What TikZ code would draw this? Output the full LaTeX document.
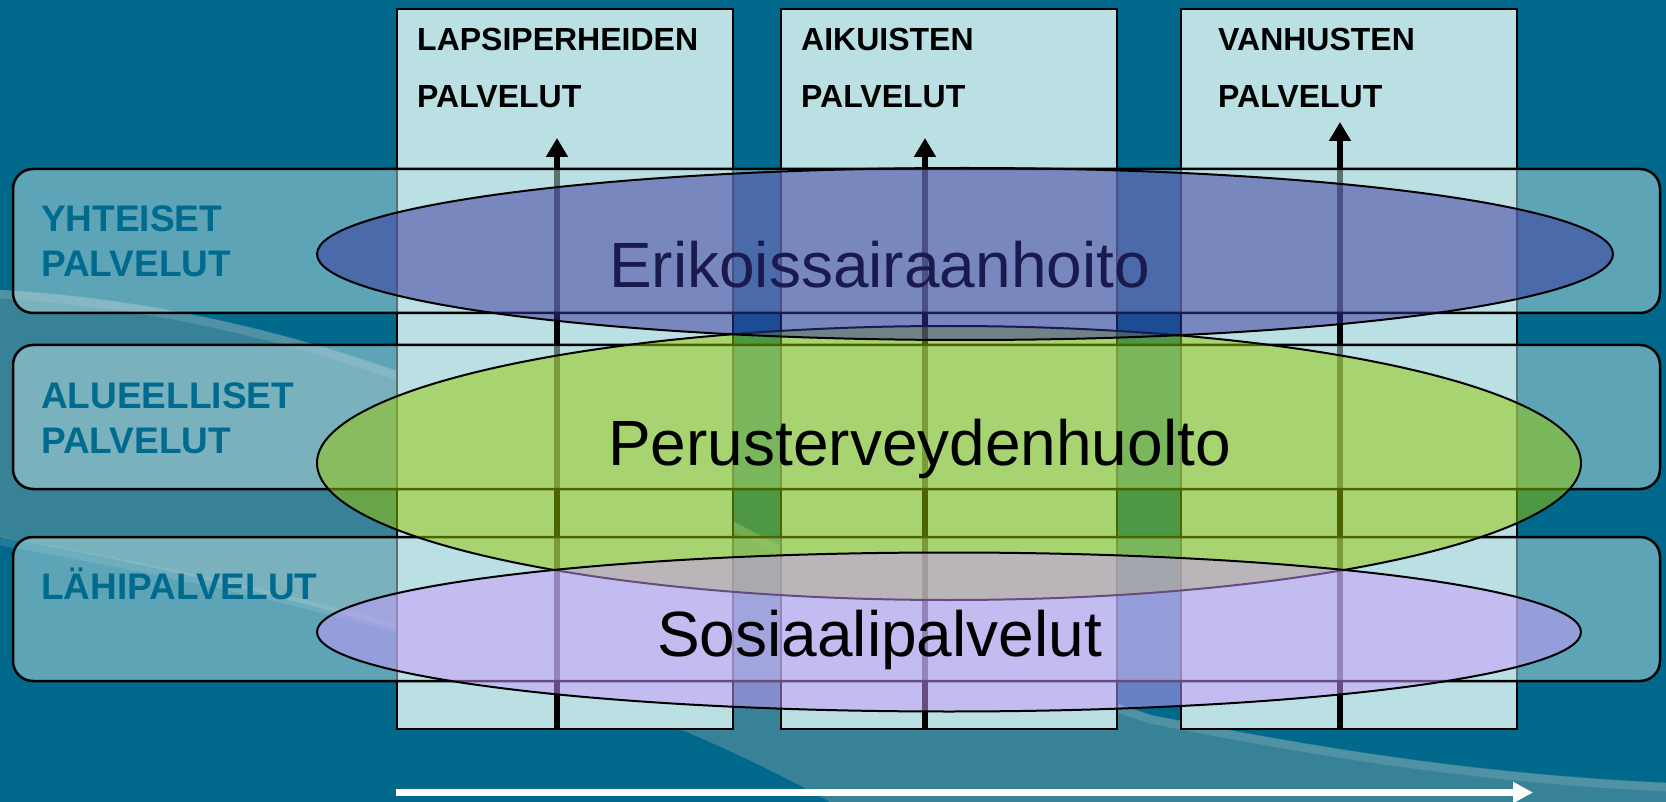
\documentclass[tikz,border=0pt]{standalone}
\usepackage{fontspec}
\setmainfont{Liberation Sans}
\usetikzlibrary{arrows.meta,shapes.geometric}
\definecolor{bgdark}{RGB}{0,105,140}
\definecolor{bgmid}{RGB}{56,130,152}
\definecolor{cyanbox}{RGB}{186,224,227}
\definecolor{labelteal}{RGB}{0,107,143}
\definecolor{ellblue}{RGB}{56,50,156}
\definecolor{ellgreen}{RGB}{152,200,0}
\definecolor{ellpurple}{RGB}{204,153,255}
\definecolor{navytext}{RGB}{27,26,78}
\begin{document}
\begin{tikzpicture}[x=1pt,y=-1pt,
  colbox/.style={draw=black,line width=2pt,fill=cyanbox,inner sep=0pt,outer sep=0pt,
    minimum width=336pt,minimum height=720pt,anchor=north west},
  rowbox/.style={draw=black,line width=2.5pt,fill=cyanbox,fill opacity=0.5,
    rounded corners=20pt,inner sep=0pt,outer sep=0pt,
    minimum width=1647pt,minimum height=144pt,anchor=north west},
  ell/.style={ellipse,draw=black,line width=2pt,fill opacity=0.5,inner sep=0pt},
  uparrow/.style={draw=black,line width=6.5pt,-{Triangle[length=19pt,width=21pt]}},
  whitearrow/.style={draw=white,line width=7pt,-{Triangle[length=20pt,width=20pt]}},
  header/.style={font=\bfseries\fontsize{32}{32}\selectfont,text=black,inner sep=0pt,anchor=base west},
  rowlabel/.style={font=\bfseries\fontsize{37}{37}\selectfont,text=labelteal,inner sep=0pt,anchor=base west},
  bigtext/.style={font=\fontsize{64}{64}\selectfont,inner sep=0pt,anchor=base west},
  streak/.style={draw=white,draw opacity=0.12,line width=9pt}
]
\useasboundingbox (0,0) rectangle (1666,802);
% background
\fill[bgdark] (0,0) rectangle (1666,802);
\fill[bgmid] (0,290) .. controls (500,320) and (800,600) .. (1150,715)
  .. controls (1350,755) and (1500,775) .. (1666,783) -- (1666,802) -- (830,802)
  .. controls (650,700) and (350,600) .. (0,537) -- cycle;
\draw[streak] (0,294) .. controls (500,324) and (800,604) .. (1150,719)
  .. controls (1350,759) and (1500,779) .. (1666,787);
\draw[streak] (0,541) .. controls (250,585) and (420,630) .. (560,680);
% columns
\node[colbox] (c1) at (397,9) {};
\node[colbox] (c2) at (781,9) {};
\node[colbox] (c3) at (1181,9) {};
% arrows in columns
\coordinate (a1s) at (557,729); \coordinate (a1e) at (557,138);
\coordinate (a2s) at (925,729); \coordinate (a2e) at (925,138);
\coordinate (a3s) at (1340,729); \coordinate (a3e) at (1340,122);
\draw[uparrow] (a1s) -- (a1e);
\draw[uparrow] (a2s) -- (a2e);
\draw[uparrow] (a3s) -- (a3e);
% rows
\node[rowbox] (r1) at (13,169) {};
\node[rowbox] (r2) at (13,345) {};
\node[rowbox] (r3) at (13,537) {};
% ellipses
\node[ell,fill=ellgreen,minimum width=1264pt,minimum height=274pt] (eg) at (949,463) {};
\node[ell,fill=ellblue,minimum width=1296pt,minimum height=172pt] (eb) at (965,254) {};
\node[ell,fill=ellpurple,minimum width=1264pt,minimum height=159pt] (ep) at (949,632) {};
% headers
\node[header] (h1a) at (417,51) {LAPSIPERHEIDEN};
\node[header] (h1b) at (417,108) {PALVELUT};
\node[header] (h2a) at (801,51) {AIKUISTEN};
\node[header] (h2b) at (801,108) {PALVELUT};
\node[header] (h3a) at (1218,51) {VANHUSTEN};
\node[header] (h3b) at (1218,108) {PALVELUT};
% row labels
\node[rowlabel] (l1a) at (41,232) {YHTEISET};
\node[rowlabel] (l1b) at (41,277) {PALVELUT};
\node[rowlabel] (l2a) at (41,408) {ALUEELLISET};
\node[rowlabel] (l2b) at (41,453) {PALVELUT};
\node[rowlabel] (l3) at (41,599) {LÄHIPALVELUT};
% ellipse texts
\node[bigtext,text=navytext] (t1) at (609,288) {Erikoissairaanhoito};
\node[bigtext,text=black] (t2) at (608,465) {Perusterveydenhuolto};
\node[bigtext,text=black] (t3) at (657,656) {Sosiaalipalvelut};
% bottom white arrow
\coordinate (w1) at (396,792.5); \coordinate (w2) at (1533,792.5);
\draw[whitearrow] (w1) -- (w2);
\end{tikzpicture}
\end{document}
